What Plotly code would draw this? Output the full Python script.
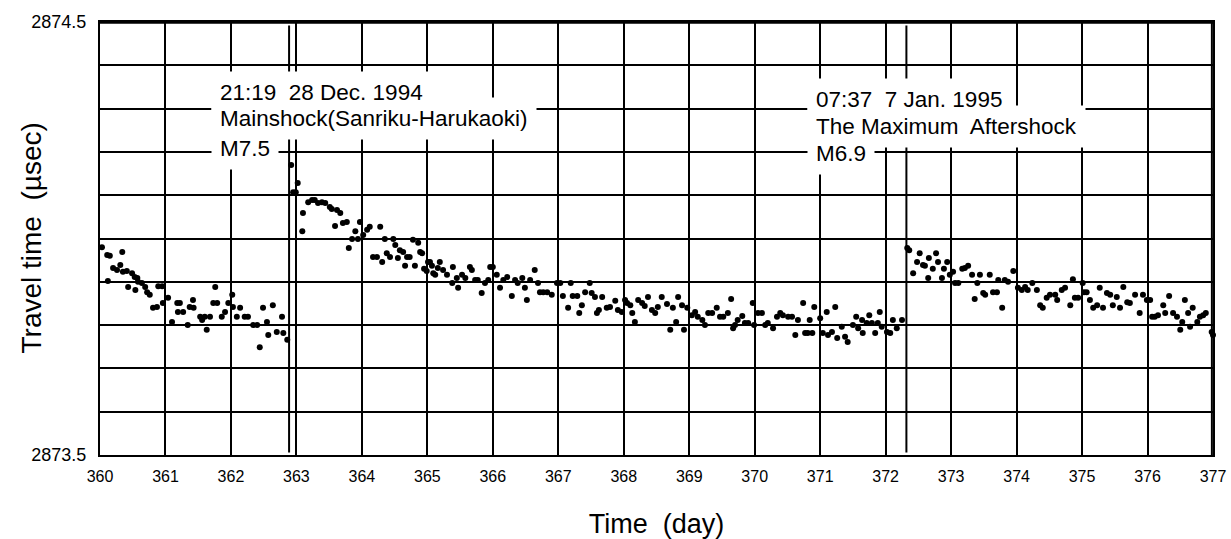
import plotly.graph_objects as go

# ---- data ----
day = [
    360.03, 360.11, 360.12, 360.15, 360.20, 360.26, 360.31, 360.34, 360.35, 360.41,
    360.43, 360.49, 360.53, 360.54, 360.57, 360.58, 360.64, 360.69, 360.72, 360.76,
    360.81, 360.87, 360.89, 360.95, 360.96, 361.04, 361.10, 361.18, 361.19, 361.22,
    361.27, 361.34, 361.37, 361.42, 361.43, 361.53, 361.56, 361.60, 361.63, 361.68,
    361.73, 361.76, 361.79, 361.86, 361.91, 361.96, 362.02, 362.03, 362.09, 362.14,
    362.21, 362.26, 362.34, 362.40, 362.44, 362.49, 362.55, 362.57, 362.64, 362.70,
    362.78, 362.80, 362.86,
    # after mainshock
    362.92, 362.95, 362.99, 363.02, 363.09, 363.10, 363.18, 363.24, 363.28, 363.33,
    363.39, 363.44, 363.51, 363.54, 363.59, 363.62, 363.67, 363.71, 363.77, 363.80,
    363.85, 363.90, 363.94, 363.97, 364.02, 364.08, 364.12, 364.17, 364.23, 364.28,
    364.31, 364.35, 364.38, 364.43, 364.48, 364.51, 364.55, 364.58, 364.63, 364.66,
    364.69, 364.73, 364.78, 364.81, 364.86, 364.89, 364.92, 364.95, 364.99, 365.01,
    365.04, 365.07, 365.09, 365.12, 365.16, 365.19, 365.24, 365.30, 365.38, 365.39,
    365.45, 365.47, 365.53, 365.58, 365.65, 365.68, 365.73, 365.77, 365.83, 365.88,
    365.93, 365.96, 366.00, 366.06, 366.11, 366.16, 366.22, 366.29, 366.34, 366.38,
    366.45, 366.49, 366.52, 366.57, 366.64, 366.69, 366.72, 366.77, 366.83, 366.90,
    366.98, 367.03, 367.07, 367.15, 367.19, 367.22, 367.29, 367.32, 367.36, 367.41,
    367.48, 367.51, 367.56, 367.59, 367.62, 367.67, 367.74, 367.79, 367.87, 367.91,
    367.97, 368.02, 368.05, 368.10, 368.13, 368.17, 368.22, 368.28, 368.32, 368.37,
    368.43, 368.48, 368.52, 368.58, 368.66, 368.71, 368.75, 368.80, 368.83, 368.89,
    368.92, 368.97, 369.04, 369.09, 369.13, 369.20, 369.24, 369.29, 369.35, 369.42,
    369.47, 369.52, 369.59, 369.64, 369.67, 369.70, 369.74, 369.81, 369.85, 369.90,
    369.97, 369.99, 370.05, 370.11, 370.16, 370.20, 370.28, 370.34, 370.39, 370.43,
    370.51, 370.57, 370.62, 370.66, 370.74, 370.77, 370.81, 370.84, 370.88, 370.91,
    371.00, 371.04, 371.10, 371.12, 371.18, 371.23, 371.26, 371.33, 371.38, 371.42,
    371.50, 371.55, 371.58, 371.64, 371.65, 371.71, 371.75, 371.79, 371.84, 371.88,
    371.91, 371.94, 372.02, 372.07, 372.11, 372.17, 372.25,
    # after the maximum aftershock
    372.33, 372.36, 372.42, 372.48, 372.52, 372.57, 372.60, 372.65, 372.66, 372.72,
    372.77, 372.80, 372.86, 372.89, 372.94, 372.98, 373.03, 373.06, 373.11, 373.17,
    373.21, 373.26, 373.32, 373.36, 373.40, 373.44, 373.49, 373.52, 373.59, 373.64,
    373.70, 373.72, 373.78, 373.82, 373.87, 373.95, 374.02, 374.08, 374.13, 374.17,
    374.24, 374.31, 374.36, 374.40, 374.46, 374.51, 374.59, 374.62, 374.69, 374.74,
    374.82, 374.86, 374.89, 374.94, 375.01, 375.03, 375.07, 375.12, 375.17, 375.23,
    375.27, 375.32, 375.38, 375.43, 375.47, 375.53, 375.58, 375.63, 375.69, 375.73,
    375.81, 375.88, 375.93, 375.99, 376.04, 376.07, 376.11, 376.16, 376.24, 376.27,
    376.33, 376.39, 376.45, 376.50, 376.53, 376.57, 376.62, 376.65, 376.69, 376.76,
    376.80, 376.85, 376.89, 376.98, 377.00,
]

travel_time = [
    2873.980, 2873.962, 2873.902, 2873.960, 2873.932, 2873.927, 2873.939, 2873.969, 2873.923, 2873.925,
    2873.888, 2873.920, 2873.911, 2873.881, 2873.909, 2873.900, 2873.897, 2873.888, 2873.876, 2873.870,
    2873.840, 2873.842, 2873.890, 2873.890, 2873.851, 2873.863, 2873.807, 2873.851, 2873.830, 2873.851,
    2873.830, 2873.800, 2873.842, 2873.858, 2873.840, 2873.819, 2873.812, 2873.819, 2873.789, 2873.819,
    2873.851, 2873.888, 2873.851, 2873.819, 2873.830, 2873.851, 2873.870, 2873.842, 2873.819, 2873.840,
    2873.819, 2873.819, 2873.800, 2873.800, 2873.749, 2873.840, 2873.807, 2873.777, 2873.846, 2873.784,
    2873.819, 2873.782, 2873.766,
    # after mainshock
    2874.170, 2874.107, 2874.107, 2874.128, 2874.017, 2874.059, 2874.084, 2874.089, 2874.089, 2874.082,
    2874.084, 2874.082, 2874.073, 2874.068, 2874.029, 2874.066, 2874.059, 2874.036, 2874.038, 2873.978,
    2873.999, 2874.017, 2873.999, 2874.038, 2874.008, 2874.020, 2874.027, 2873.957, 2873.957, 2874.027,
    2873.946, 2873.999, 2873.966, 2873.957, 2873.999, 2873.985, 2873.955, 2873.973, 2873.969, 2873.937,
    2873.957, 2873.957, 2873.997, 2873.937, 2873.990, 2873.969, 2873.966, 2873.930, 2873.925, 2873.946,
    2873.946, 2873.937, 2873.920, 2873.916, 2873.932, 2873.946, 2873.927, 2873.916, 2873.897, 2873.934,
    2873.909, 2873.886, 2873.916, 2873.909, 2873.934, 2873.927, 2873.904, 2873.904, 2873.874, 2873.897,
    2873.904, 2873.934, 2873.934, 2873.916, 2873.886, 2873.904, 2873.911, 2873.867, 2873.904, 2873.897,
    2873.909, 2873.886, 2873.858, 2873.904, 2873.927, 2873.897, 2873.876, 2873.876, 2873.876, 2873.870,
    2873.897, 2873.897, 2873.867, 2873.840, 2873.897, 2873.867, 2873.867, 2873.828, 2873.846, 2873.876,
    2873.897, 2873.874, 2873.865, 2873.828, 2873.835, 2873.865, 2873.840, 2873.842, 2873.856, 2873.835,
    2873.830, 2873.858, 2873.851, 2873.846, 2873.828, 2873.807, 2873.858, 2873.851, 2873.844, 2873.865,
    2873.835, 2873.828, 2873.842, 2873.865, 2873.849, 2873.789, 2873.840, 2873.807, 2873.865, 2873.846,
    2873.789, 2873.840, 2873.823, 2873.830, 2873.819, 2873.812, 2873.800, 2873.828, 2873.828, 2873.840,
    2873.819, 2873.819, 2873.828, 2873.860, 2873.793, 2873.800, 2873.812, 2873.821, 2873.805, 2873.805,
    2873.851, 2873.800, 2873.828, 2873.828, 2873.800, 2873.805, 2873.793, 2873.819, 2873.828, 2873.823,
    2873.819, 2873.819, 2873.777, 2873.812, 2873.851, 2873.782, 2873.782, 2873.812, 2873.782, 2873.842,
    2873.816, 2873.782, 2873.830, 2873.777, 2873.784, 2873.842, 2873.770, 2873.796, 2873.773, 2873.761,
    2873.800, 2873.819, 2873.793, 2873.812, 2873.782, 2873.805, 2873.823, 2873.805, 2873.782, 2873.805,
    2873.830, 2873.796, 2873.784, 2873.782, 2873.812, 2873.793, 2873.812,
    # after the maximum aftershock
    2873.978, 2873.973, 2873.920, 2873.946, 2873.966, 2873.939, 2873.937, 2873.909, 2873.955, 2873.930,
    2873.966, 2873.946, 2873.909, 2873.930, 2873.946, 2873.916, 2873.923, 2873.897, 2873.897, 2873.930,
    2873.932, 2873.937, 2873.916, 2873.860, 2873.897, 2873.916, 2873.874, 2873.870, 2873.916, 2873.876,
    2873.876, 2873.904, 2873.840, 2873.904, 2873.900, 2873.925, 2873.886, 2873.881, 2873.888, 2873.881,
    2873.897, 2873.881, 2873.846, 2873.840, 2873.863, 2873.870, 2873.870, 2873.858, 2873.881, 2873.886,
    2873.846, 2873.906, 2873.863, 2873.863, 2873.897, 2873.876, 2873.876, 2873.858, 2873.840, 2873.846,
    2873.886, 2873.840, 2873.874, 2873.870, 2873.846, 2873.865, 2873.840, 2873.888, 2873.853, 2873.851,
    2873.870, 2873.828, 2873.870, 2873.858, 2873.858, 2873.819, 2873.819, 2873.823, 2873.846, 2873.828,
    2873.867, 2873.828, 2873.819, 2873.789, 2873.807, 2873.858, 2873.828, 2873.796, 2873.840, 2873.807,
    2873.819, 2873.823, 2873.828, 2873.784, 2873.777,
]

x_ticks = [360, 361, 362, 363, 364, 365, 366, 367, 368, 369, 370, 371, 372, 373, 374, 375, 376, 377]
y_ticks = [2873.5, 2873.6, 2873.7, 2873.8, 2873.9, 2874.0, 2874.1, 2874.2, 2874.3, 2874.4, 2874.5]
y_ticktext = ["2873.5", "", "", "", "", "", "", "", "", "", "2874.5"]

mainshock_day = 362.888      # 21:19 28 Dec. 1994
aftershock_day = 372.317     # 07:37 7 Jan. 1995

mainshock_lines = ["21:19  28 Dec. 1994", "Mainshock(Sanriku-Harukaoki)", "M7.5"]
mainshock_line_y = [2874.338, 2874.276, 2874.209]
aftershock_lines = ["07:37  7 Jan. 1995", "The Maximum  Aftershock", "M6.9"]
aftershock_line_y = [2874.320, 2874.258, 2874.197]
mainshock_text_x = 361.70
aftershock_text_x = 370.80

FONT = "Liberation Sans, Arial, Helvetica, sans-serif"

fig = go.Figure()
fig.add_trace(go.Scatter(
    x=day, y=travel_time, mode="markers",
    marker=dict(color="black", size=6, line=dict(width=0)),
    cliponaxis=False, showlegend=False,
))

for d in (mainshock_day, aftershock_day):
    fig.add_shape(type="line", xref="x", yref="paper", x0=d, x1=d, y0=0.006, y1=0.992,
                  line=dict(color="black", width=2))

# plot frame (top and right edges drawn explicitly, slightly inset)
fig.add_shape(type="line", xref="paper", yref="paper", x0=0, x1=1, y0=0.998, y1=0.998,
              line=dict(color="black", width=2), layer="above")
fig.add_shape(type="line", xref="paper", yref="paper", x0=0.999, x1=0.999, y0=0, y1=1,
              line=dict(color="black", width=2), layer="above")

# white backgrounds first (text invisible), then the text on top
label_groups = [(mainshock_text_x, mainshock_lines, mainshock_line_y),
                (aftershock_text_x, aftershock_lines, aftershock_line_y)]
for xpos, lines, ys in label_groups:
    for txt, yv in zip(lines, ys):
        fig.add_annotation(x=xpos, y=yv, text=txt, showarrow=False,
                           xanchor="left", yanchor="middle", bgcolor="white", borderpad=8,
                           font=dict(family=FONT, size=22.5, color="white"))
for xpos, lines, ys in label_groups:
    for txt, yv in zip(lines, ys):
        fig.add_annotation(x=xpos, y=yv, text=txt, showarrow=False,
                           xanchor="left", yanchor="middle", borderpad=8,
                           font=dict(family=FONT, size=22.5, color="black"))

# y axis title placed to match the reference
fig.add_annotation(xref="paper", yref="paper", x=0, y=0.5, xshift=-69,
                   text="Travel time  (µsec)", textangle=-90, showarrow=False,
                   xanchor="center", yanchor="middle",
                   font=dict(family=FONT, size=28, color="black"))

fig.update_layout(
    width=1231, height=539,
    margin=dict(l=100, r=18, t=22, b=84),
    paper_bgcolor="white", plot_bgcolor="white",
    font=dict(family=FONT, color="black"),
    xaxis=dict(
        range=[360, 377], tickmode="array", tickvals=x_ticks,
        ticks="", ticklabelstandoff=6, automargin=False,
        tickfont=dict(size=16, color="black"),
        showgrid=True, gridcolor="black", gridwidth=1.5,
        showline=True, linecolor="black", linewidth=2, mirror="all",
        zeroline=False,
        title=dict(text="Time  (day)", font=dict(size=27, color="black"), standoff=32),
    ),
    yaxis=dict(
        range=[2873.5, 2874.5], tickmode="array", tickvals=y_ticks, ticktext=y_ticktext,
        ticks="", ticklabelstandoff=8, automargin=False,
        tickfont=dict(size=18, color="black"),
        showgrid=True, gridcolor="black", gridwidth=1.5,
        showline=True, linecolor="black", linewidth=2, mirror="all",
        zeroline=False,
    ),
)

# remove the browser's default 8px page margin so the figure fills the window exactly
fig.write_html("out.html",
               config={"displayModeBar": False},
               post_script="document.body.style.margin='0';document.body.style.overflow='hidden';")
